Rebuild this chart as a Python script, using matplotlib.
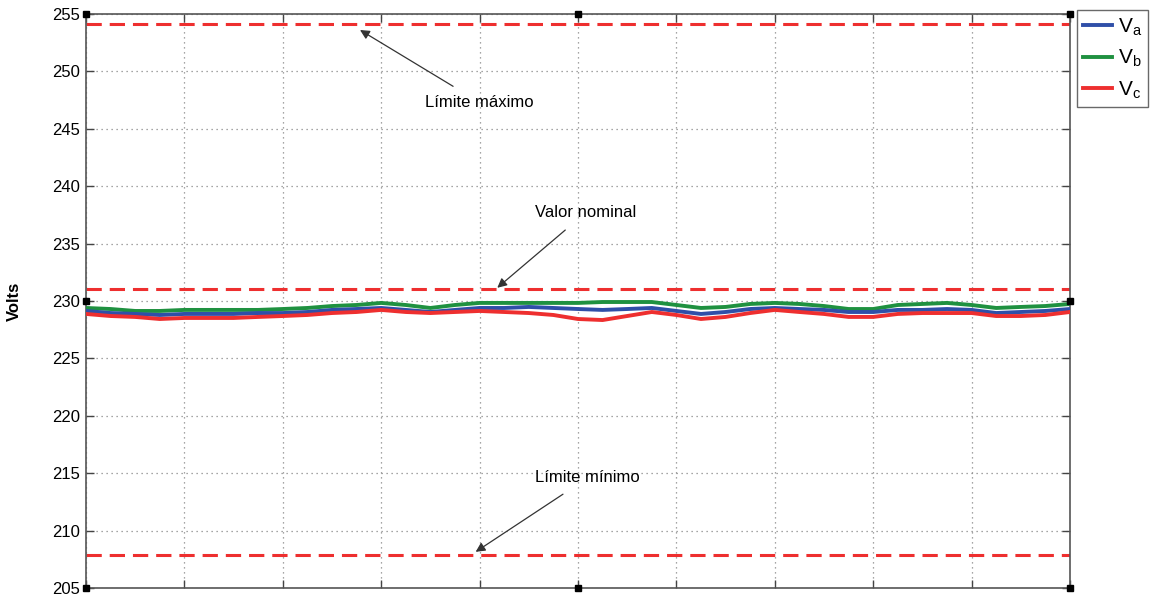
import matplotlib
matplotlib.use("Agg")
import matplotlib.pyplot as plt
import numpy as np

plt.rcParams['font.family'] = ['Liberation Sans', 'DejaVu Sans']

# ---- data ----
t = [i * 2.5 for i in range(41)]
va = [229.13, 228.95, 228.87, 228.78, 228.87, 228.87, 228.87, 228.95, 228.95, 229.04,
      229.22, 229.30, 229.39, 229.22, 229.04, 229.22, 229.39, 229.39, 229.48, 229.39,
      229.30, 229.22, 229.30, 229.39, 229.13, 228.87, 229.04, 229.30, 229.39, 229.30,
      229.22, 229.04, 229.04, 229.22, 229.22, 229.30, 229.22, 228.95, 229.04, 229.13,
      229.30]
vb = [229.39, 229.30, 229.13, 229.13, 229.22, 229.22, 229.22, 229.22, 229.30, 229.39,
      229.56, 229.65, 229.83, 229.65, 229.39, 229.65, 229.83, 229.83, 229.83, 229.83,
      229.83, 229.91, 229.91, 229.91, 229.65, 229.39, 229.48, 229.74, 229.83, 229.74,
      229.56, 229.30, 229.30, 229.65, 229.74, 229.83, 229.65, 229.39, 229.48, 229.56,
      229.74]
vc = [228.87, 228.69, 228.61, 228.43, 228.52, 228.52, 228.52, 228.61, 228.69, 228.78,
      228.95, 229.04, 229.22, 229.04, 228.95, 229.04, 229.13, 229.04, 228.95, 228.78,
      228.43, 228.34, 228.69, 229.04, 228.78, 228.43, 228.61, 228.95, 229.22, 229.04,
      228.87, 228.61, 228.61, 228.87, 228.95, 228.95, 228.95, 228.69, 228.69, 228.78,
      229.04]
nominal = 231.0
lim_max = 254.1
lim_min = 207.9
series_labels = [r'$\mathregular{V_a}$', r'$\mathregular{V_b}$', r'$\mathregular{V_c}$']
yticks = [205, 210, 215, 220, 225, 230, 235, 240, 245, 250, 255]
xticks = [0, 10, 20, 30, 40, 50, 60, 70, 80, 90, 100]

fig = plt.figure(figsize=(11.54, 5.98), dpi=100)
ax = fig.add_axes([0.0745, 0.0167, 0.8527, 0.96])

c_blue = '#2f4fa8'
c_green = '#1f9140'
c_red = '#ee2f2f'

ax.plot(t, va, color=c_blue, lw=2.8, label=series_labels[0], zorder=4)
ax.plot(t, vb, color=c_green, lw=2.8, label=series_labels[1], zorder=3)
ax.plot(t, vc, color=c_red, lw=2.8, label=series_labels[2], zorder=5)

for v in (lim_max, nominal, lim_min):
    ax.axhline(v, color=c_red, lw=2.2, ls=(0, (5, 2.6)), zorder=2)

ax.set_xlim(0, 100)
ax.set_ylim(205, 255)
ax.set_xticks(xticks)
ax.set_yticks(yticks)
ax.set_xticklabels([])
ax.tick_params(direction='in', length=6, width=1, colors='#444444', labelcolor='black',
               labelsize=12, top=True, right=True, pad=4)
ax.grid(True, ls=(0, (1, 3)), color='#888888', lw=0.9)
for s in ax.spines.values():
    s.set_color('#555555')
    s.set_linewidth(1.2)

ax.set_ylabel('Volts', fontsize=12, fontweight='bold', labelpad=22)

# annotations
arrow_kw = dict(arrowstyle='-|>', color='#333333', lw=0.9, mutation_scale=14,
                shrinkA=8, shrinkB=0)
ax.annotate('Límite máximo', xy=(27.85, 253.6), xytext=(40.0, 247.3),
            fontsize=12, ha='center', va='center', arrowprops=arrow_kw)
ax.annotate('Valor nominal', xy=(41.8, 231.15), xytext=(50.8, 237.7),
            fontsize=12, ha='center', va='center', arrowprops=arrow_kw)
ax.annotate('Límite mínimo', xy=(39.6, 208.15), xytext=(51.0, 214.6),
            fontsize=12, ha='center', va='center', arrowprops=arrow_kw)

# selection handles
hx = [0, 50, 100, 0, 100, 0, 50, 100]
hy = [255, 255, 255, 230, 230, 205, 205, 205]
ax.plot(hx, hy, 's', color='black', ms=5, clip_on=False, zorder=10)

leg = ax.legend(loc='upper left', bbox_to_anchor=(1077 / 1154, 1 - 10 / 598),
                bbox_transform=fig.transFigure, fontsize=15,
                frameon=True, fancybox=False, edgecolor='#444444',
                handlelength=1.4, handletextpad=0.25, borderpad=0.3,
                labelspacing=0.5, borderaxespad=0)
leg.get_frame().set_linewidth(1.0)

fig.savefig('out.png', dpi=100)
